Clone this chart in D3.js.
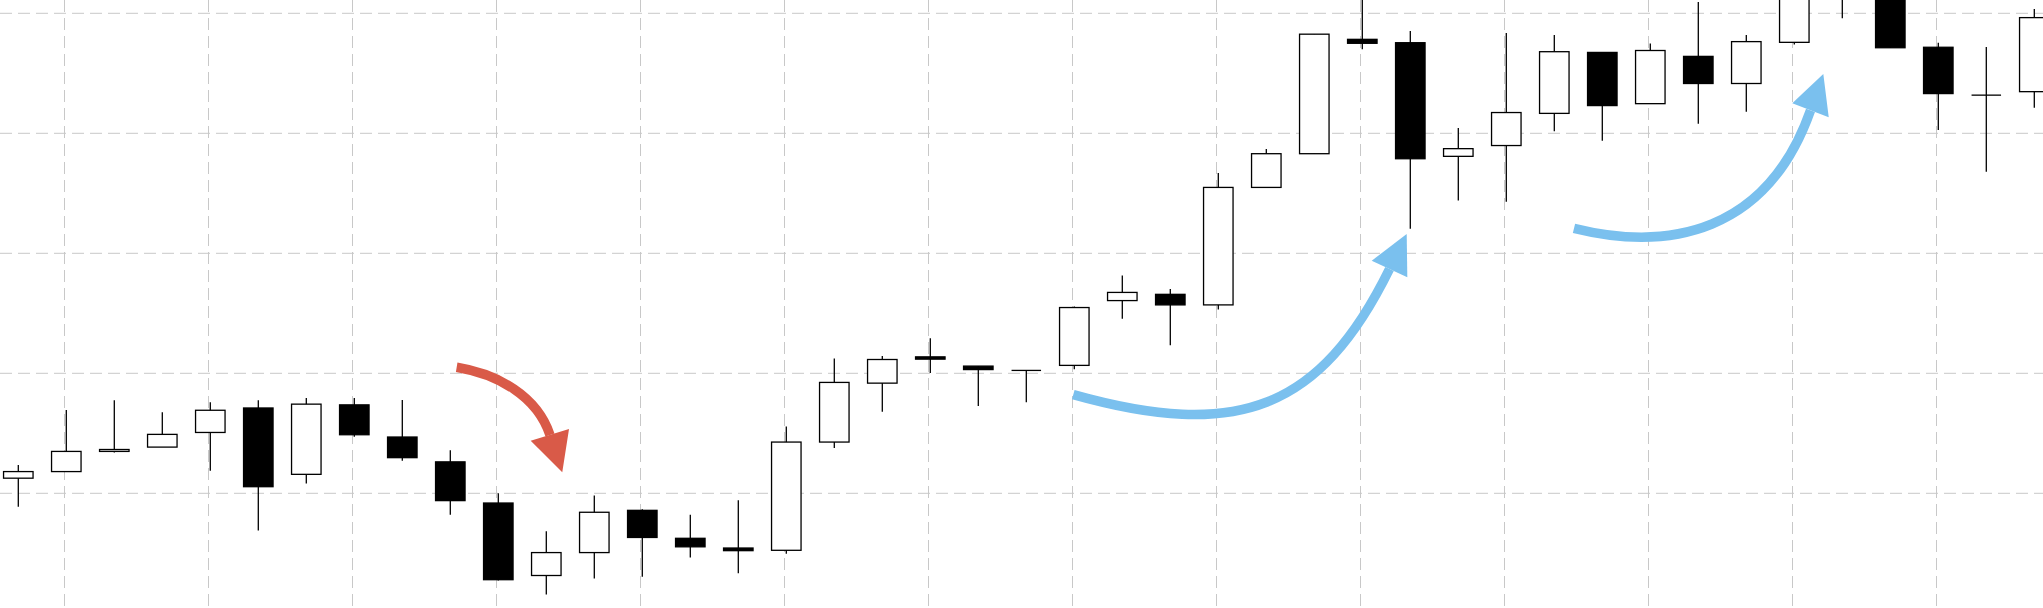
<!DOCTYPE html>
<html><head><meta charset="utf-8">
<script src="https://cdn.jsdelivr.net/npm/d3@7"></script>
<style>html,body{margin:0;padding:0;background:#fff;overflow:hidden}</style>
</head><body><svg id="chart" width="2043" height="608"></svg>
<script>
// ---- data ----
const opens  = [91.26,91.81,93.49,93.85,95.07,97.11,91.58,97.37,94.69,92.62,89.19,83.15,85.06,88.58,86.25,85.44,85.25,94.27,99.18,101.37,100.60,100.24,100.66,106.06,106.58,105.70,115.49,118.30,127.83,127.55,118.08,118.98,121.66,126.74,122.47,126.41,124.15,127.58,132.00,133.00,127.17,123.18,123.47];
const highs  = [92.36,96.95,97.75,96.75,97.59,97.75,97.95,97.95,97.77,93.59,90.00,86.83,89.81,88.68,88.22,89.42,95.56,101.24,101.44,102.92,100.60,100.24,105.57,108.16,107.03,116.69,118.69,128.26,132.50,128.53,120.44,128.35,128.19,126.74,127.48,130.94,128.19,134.00,135.00,134.00,127.55,127.19,130.36];
const lows   = [88.87,91.81,93.39,93.85,91.87,86.90,90.81,94.72,92.71,88.22,82.73,81.57,82.89,83.05,84.64,83.34,84.96,93.78,96.79,100.02,97.27,97.59,100.34,104.54,102.34,105.32,115.49,118.30,127.00,112.04,114.39,114.30,120.18,119.37,122.47,120.80,121.80,127.40,129.58,127.13,120.27,116.79,122.12];
const closes = [91.81,93.49,93.65,94.91,96.92,90.55,97.43,94.88,92.97,89.39,82.80,85.06,88.42,86.32,85.54,85.22,94.27,99.24,101.15,101.18,100.31,100.24,105.48,106.74,105.70,115.49,118.30,128.26,127.50,117.88,118.72,121.73,126.80,122.31,126.90,124.15,127.64,133.00,134.00,127.13,123.31,123.18,129.64];
const priceTicks = [90, 100, 110, 120, 130];
const timeTicks = [1, 4, 7, 10, 13, 16, 19, 22, 25, 28, 31, 34, 37, 40];
// annotation arrows in data space [candle index, price]: cubic curve (start, ctrl1, ctrl2, end) + head triangle
const redArrowCurve = [[9.133,100.5],[9.988,99.933],[10.806,98.125],[11.077,94.858]];
const redArrowHead  = [[10.675,94.383],[11.333,91.75],[11.473,95.358]];
const blueArrow1Curve = [[21.979,98.217],[25.402,94.375],[27.123,96.942],[28.567,108.692]];
const blueArrow1Head  = [[28.196,109.383],[28.925,111.608],[28.938,108.0]];
const blueArrow2Curve = [[32.41,112.083],[34.406,110.108],[36.438,111.733],[37.338,121.917]];
const blueArrow2Head  = [[36.958,122.5],[37.604,124.942],[37.717,121.333]];

// ---- chart ----
const W = 2043, H = 608;
const svg = d3.select('#chart');
const x = d3.scaleLinear().domain([0, 42]).range([18.3, 18.3 + 48 * 42]);
const y = d3.scaleLinear().domain([80.4417, 131.1083]).range([H, 0]);
const candles = opens.map((o, i) => ({i, o, h: highs[i], l: lows[i], c: closes[i]}));

const grid = svg.append('g').attr('stroke', '#c8c8c8').attr('stroke-width', 1).attr('stroke-dasharray', '12,6');
grid.selectAll('line.h').data(priceTicks).join('line').attr('class', 'h')
  .attr('x1', 0).attr('x2', W).attr('y1', d => y(d)).attr('y2', d => y(d));
grid.selectAll('line.v').data(timeTicks).join('line').attr('class', 'v')
  .attr('x1', d => x(d) - 1.8).attr('x2', d => x(d) - 1.8).attr('y1', 0).attr('y2', H);

const bw = 29.5;
const g = svg.append('g');
g.selectAll('line.wick').data(candles).join('line').attr('class', 'wick')
  .attr('x1', d => x(d.i)).attr('x2', d => x(d.i))
  .attr('y1', d => y(d.h)).attr('y2', d => y(d.l))
  .attr('stroke', '#000').attr('stroke-width', 1.3);
g.selectAll('rect.body').data(candles.filter(d => d.o !== d.c)).join('rect').attr('class', 'body')
  .attr('x', d => x(d.i) - bw / 2).attr('width', bw)
  .attr('y', d => y(Math.max(d.o, d.c)))
  .attr('height', d => Math.max(0.6, Math.abs(y(d.o) - y(d.c))))
  .attr('fill', d => d.c > d.o ? '#fff' : '#000')
  .attr('stroke', '#000').attr('stroke-width', 1.3);
g.selectAll('line.doji').data(candles.filter(d => d.o === d.c)).join('line').attr('class', 'doji')
  .attr('x1', d => x(d.i) - bw / 2).attr('x2', d => x(d.i) + bw / 2)
  .attr('y1', d => y(d.o)).attr('y2', d => y(d.o))
  .attr('stroke', '#000').attr('stroke-width', 1.3);

function curvePath(c) {
  const p = d3.path();
  const P = c.map(d => [x(d[0]), y(d[1])]);
  p.moveTo(P[0][0], P[0][1]);
  p.bezierCurveTo(P[1][0], P[1][1], P[2][0], P[2][1], P[3][0], P[3][1]);
  return p.toString();
}
const head = pts => 'M' + pts.map(p => x(p[0]) + ',' + y(p[1])).join('L') + 'Z';
const arrows = [
  {curve: redArrowCurve, head: redArrowHead, color: '#d95a48'},
  {curve: blueArrow1Curve, head: blueArrow1Head, color: '#7ac0ee'},
  {curve: blueArrow2Curve, head: blueArrow2Head, color: '#7ac0ee'}
];
const ag = svg.append('g');
arrows.forEach(a => {
  ag.append('path').attr('d', curvePath(a.curve)).attr('fill', 'none')
    .attr('stroke', a.color).attr('stroke-width', 9.5).attr('stroke-linecap', 'butt');
  ag.append('path').attr('d', head(a.head)).attr('fill', a.color);
});
</script>
</body></html>
